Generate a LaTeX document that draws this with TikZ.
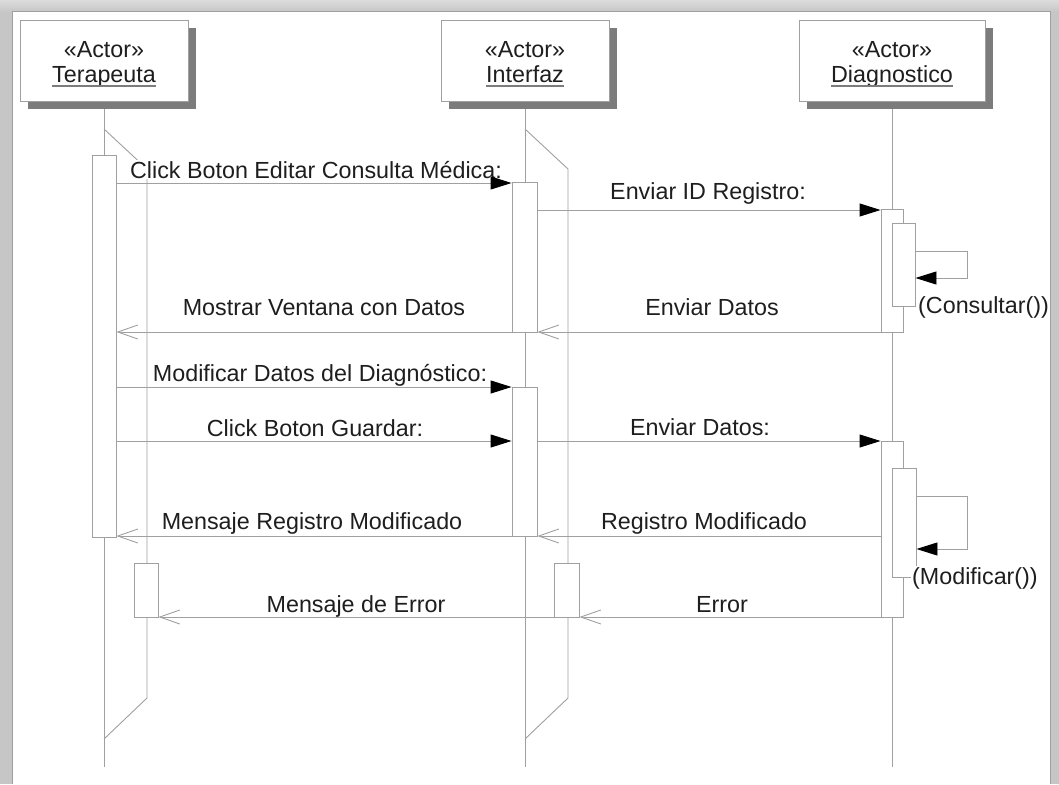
\documentclass[tikz,border=0pt]{standalone}
\usepackage{fontspec}
\setmainfont{Liberation Sans}
\usetikzlibrary{arrows.meta,shadows}
\definecolor{ln}{HTML}{A0A0A0}
\definecolor{tx}{HTML}{1E1E1E}
\definecolor{shd}{HTML}{7C7C7C}
\definecolor{frm}{HTML}{C6C6C6}
\definecolor{frmlight}{HTML}{DCDCDC}
\begin{document}
\begin{tikzpicture}[x=1pt,y=-1pt,
  line/.style={draw=ln, line width=0.9pt},
  actorbox/.style={draw=ln, fill=white, line width=0.9pt, minimum height=81pt, inner sep=0pt,
     drop shadow={shadow xshift=8pt, shadow yshift=-8pt, fill=shd, opacity=1}},
  actbar/.style={draw=ln, fill=white, line width=0.9pt, inner sep=0pt},
  txt/.style={text=tx, inner xsep=0pt, inner ysep=1pt, font=\fontsize{23.3}{28}\selectfont},
  lbl/.style={txt, fill=white, inner xsep=1pt, anchor=base},
  sync/.style={line, -{Triangle[length=21pt,width=13pt,color=black]}},
  ret/.style={line, -{Straight Barb[length=20pt,width=14pt]}},
  uline/.style={draw=shd, line width=1.6pt},
]
\useasboundingbox (0,0) rectangle (1059,784);
% frame
\fill[frm] (0,0) rectangle (1059,784);
\shade[top color=frmlight, bottom color=frm] (0,0) rectangle (1059,12);
\fill[white] (12,12) rectangle (1050,784);
\draw[gray!75, line width=1pt] (12,784) -- (12,12) -- (1050,12) -- (1050,784);

% row coordinates
\coordinate (r1) at (0,183);
\coordinate (r2) at (0,210);
\coordinate (r3) at (0,332);
\coordinate (r4) at (0,387);
\coordinate (r5) at (0,441);
\coordinate (r6) at (0,536);
\coordinate (r7) at (0,617);
\coordinate (s1) at (0,251);
\coordinate (s1b) at (0,278);
\coordinate (s2) at (0,496);
\coordinate (s2b) at (0,549);

% lifeline ends
\coordinate (tEnd) at (104,767);
\coordinate (iEnd) at (525,767);
\coordinate (dEnd) at (892,767);

% lifelines
\draw[line] (104,101) -- (tEnd);
\draw[line] (525,101) -- (iEnd);
\draw[line] (892,101) -- (dEnd);
\draw[line] (104,129) -- (147,169) -- (147,698) -- (104,739);
\draw[line] (525,129) -- (568,169) -- (568,698) -- (525,739);

% actors
\node[actorbox, minimum width=168pt] (t) at (104,60.5) {};
\node[actorbox, minimum width=168pt] (i) at (525,60.5) {};
\node[actorbox, minimum width=186pt] (d) at (892,60.5) {};
\node[txt, anchor=base] (ts) at (104,57) {«Actor»};
\node[txt, anchor=base] (is) at (525,57) {«Actor»};
\node[txt, anchor=base] (ds) at (892,57) {«Actor»};
\node[txt, anchor=base] (tn) at (104,82) {Terapeuta};
\node[txt, anchor=base] (in) at (525,82) {Interfaz};
\node[txt, anchor=base] (dn) at (892,82) {Diagnostico};
\draw[uline] ([yshift=-4pt]tn.base west) -- ([yshift=-4pt]tn.base east);
\draw[uline] ([yshift=-4pt]in.base west) -- ([yshift=-4pt]in.base east);
\draw[uline] ([yshift=-4pt]dn.base west) -- ([yshift=-4pt]dn.base east);

% activation bars
\node[actbar, minimum width=24pt, minimum height=382pt] (tA) at (104,346) {};
\node[actbar, minimum width=24pt, minimum height=54pt] (tB) at (146,590) {};
\node[actbar, minimum width=25pt, minimum height=150pt] (iA) at (524.5,257) {};
\node[actbar, minimum width=25pt, minimum height=149pt] (iB) at (524.5,461.5) {};
\node[actbar, minimum width=25pt, minimum height=54pt] (iC) at (566.5,590) {};
\node[actbar, minimum width=22pt, minimum height=123pt] (dA) at (892,270.5) {};
\node[actbar, minimum width=23pt, minimum height=83pt] (dA2) at (903.5,264.5) {};
\node[actbar, minimum width=22pt, minimum height=176pt] (dB) at (892,529) {};
\node[actbar, minimum width=24pt, minimum height=109pt] (dB2) at (904,522.5) {};

% labels
\node[lbl] (l1) at (316,178) {Click Boton Editar Consulta Médica:};
\node[lbl] (l2) at (708,199) {Enviar ID Registro:};
\node[lbl] (l3) at (324,315) {Mostrar Ventana con Datos};
\node[lbl] (l4) at (712,315) {Enviar Datos};
\node[lbl] (l5) at (320,381) {Modificar Datos del Diagnóstico:};
\node[lbl] (l6) at (315,436) {Click Boton Guardar:};
\node[lbl] (l7) at (700,435) {Enviar Datos:};
\node[lbl] (l8) at (704,529) {Registro Modificado};
\node[lbl] (l9) at (312,529) {Mensaje Registro Modificado};
\node[lbl] (l10) at (356,612) {Mensaje de Error};
\node[lbl] (l11) at (722,612) {Error};
\node[lbl, anchor=base west] (l12) at (917,313) {(Consultar())};
\node[lbl, anchor=base west] (l13) at (911,584) {(Modificar())};

% messages
\draw[sync] (tA.east |- r1) -- (iA.west |- r1);
\draw[sync] (iA.east |- r2) -- (dA.west |- r2);
\draw[sync] (dA2.east |- s1) -- ++(52,0) -- ++(0,27) -- (dA2.east |- s1b);
\draw[ret] (dA.west |- r3) -- (iA.east |- r3);
\draw[ret] (iA.west |- r3) -- (tA.east |- r3);
\draw[sync] (tA.east |- r4) -- (iB.west |- r4);
\draw[sync] (tA.east |- r5) -- (iB.west |- r5);
\draw[sync] (iB.east |- r5) -- (dB.west |- r5);
\draw[sync] (dB2.east |- s2) -- ++(51,0) -- ++(0,53) -- (dB2.east |- s2b);
\draw[ret] (dB.west |- r6) -- (iB.east |- r6);
\draw[ret] (iB.west |- r6) -- (tA.east |- r6);
\draw[ret] (dB.west |- r7) -- (iC.east |- r7);
\draw[ret] (iC.west |- r7) -- (tB.east |- r7);
\end{tikzpicture}
\end{document}
